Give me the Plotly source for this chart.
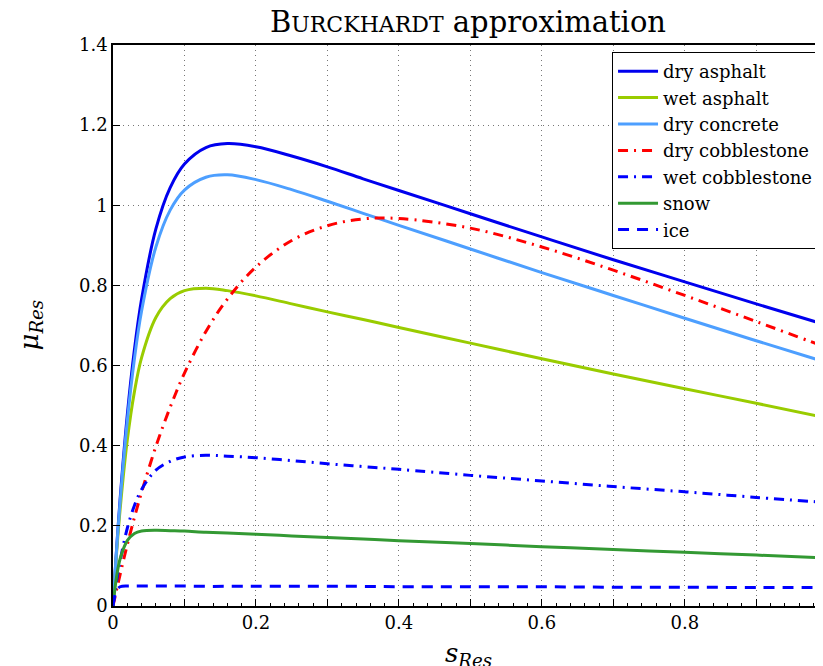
import plotly.graph_objects as go

# slip values (s_Res)
s = [0, 0.005, 0.01, 0.02, 0.03, 0.04, 0.06, 0.08, 0.1, 0.13, 0.16, 0.2, 0.25,
     0.3, 0.35, 0.4, 0.5, 0.6, 0.7, 0.8, 0.9, 1.0]

dry_asphalt = [0, 0.142, 0.268, 0.477, 0.640, 0.766, 0.941, 1.044, 1.103, 1.144, 1.154,
               1.146, 1.123, 1.096, 1.066, 1.037, 0.979, 0.921, 0.864, 0.809, 0.754, 0.700]
wet_asphalt = [0, 0.132, 0.242, 0.414, 0.535, 0.620, 0.720, 0.767, 0.787, 0.793, 0.787,
               0.774, 0.754, 0.734, 0.715, 0.695, 0.656, 0.617, 0.579, 0.542, 0.506, 0.469]
dry_concrete = [0, 0.139, 0.261, 0.462, 0.617, 0.736, 0.896, 0.988, 1.038, 1.070, 1.076,
                1.064, 1.039, 1.010, 0.980, 0.950, 0.891, 0.832, 0.775, 0.718, 0.662, 0.607]
dry_cobblestone = [0, 0.040, 0.079, 0.153, 0.221, 0.284, 0.398, 0.496, 0.581, 0.685, 0.766,
                   0.846, 0.912, 0.949, 0.966, 0.967, 0.943, 0.896, 0.838, 0.775, 0.710, 0.644]
wet_cobblestone = [0, 0.062, 0.113, 0.194, 0.251, 0.291, 0.339, 0.361, 0.372, 0.376, 0.374,
                   0.370, 0.363, 0.355, 0.348, 0.341, 0.326, 0.312, 0.298, 0.285, 0.271, 0.258]
snow = [0, 0.073, 0.118, 0.163, 0.181, 0.187, 0.189, 0.188, 0.187, 0.184, 0.182,
        0.179, 0.175, 0.171, 0.167, 0.163, 0.156, 0.148, 0.141, 0.134, 0.127, 0.120]
ice = [0, 0.039, 0.048, 0.050, 0.050, 0.050, 0.050, 0.050, 0.050, 0.049, 0.049,
       0.049, 0.049, 0.049, 0.049, 0.048, 0.048, 0.048, 0.047, 0.047, 0.046, 0.046]

names = ["dry asphalt", "wet asphalt", "dry concrete", "dry cobblestone",
         "wet cobblestone", "snow", "ice"]
series = [dry_asphalt, wet_asphalt, dry_concrete, dry_cobblestone,
          wet_cobblestone, snow, ice]
colors = ["#0000ee", "#99cc00", "#4d9fff", "#ff0000", "#0000ff", "#339933", "#0000ff"]
dashes = ["solid", "solid", "solid", "10px,6px,2px,6px", "10px,6px,2px,6px", "solid", "11px,8px"]

x_tickvals = [0, 0.1, 0.2, 0.3, 0.4, 0.5, 0.6, 0.7, 0.8, 0.9]
x_ticktext = ["0", " ", "0.2", " ", "0.4", " ", "0.6", " ", "0.8", " "]
y_tickvals = [0, 0.2, 0.4, 0.6, 0.8, 1.0, 1.2, 1.4]
y_ticktext = ["0", "0.2", "0.4", "0.6", "0.8", "1", "1.2", "1.4"]

FAMILY = "DejaVu Serif"
FONT = FAMILY + ", serif"


def serif(t):
    return "<span style='font-family:%s'>%s</span>" % (FAMILY, t) if t.strip() else t


fig = go.Figure()
for name, ys, c, d in zip(names, series, colors, dashes):
    fig.add_trace(go.Scatter(
        x=s, y=ys, mode="lines", name=serif(name),
        line=dict(color=c, width=3, dash=d, shape="spline", smoothing=1.0),
    ))

fig.update_layout(
    width=815, height=658,
    margin=dict(l=105, r=0, t=37, b=60),
    paper_bgcolor="white", plot_bgcolor="white",
    font=dict(family=FONT, color="black", size=18),
    title=dict(
        text="B<span style='font-size:22px'>URCKHARDT</span> approximation",
        x=0.5, xref="paper", xanchor="center",
        y=0.9787, yref="container", yanchor="middle",
        font=dict(family=FONT, size=29, color="black"),
    ),
    showlegend=True,
    legend=dict(
        x=0.993, xanchor="right", y=0.9875, yanchor="top",
        bgcolor="white", bordercolor="black", borderwidth=1,
        font=dict(family=FONT, size=18, color="black"),
        tracegroupgap=0, itemwidth=40,
    ),
    xaxis=dict(
        range=[0, 0.9934], tickmode="array", tickvals=x_tickvals,
        ticktext=[serif(t) for t in x_ticktext],
        ticks="inside", ticklen=7, tickcolor="black", tickwidth=1,
        showgrid=True, gridcolor="#777777", griddash="1px,4px", gridwidth=1,
        showline=True, linecolor="black", linewidth=1.5, mirror=True,
        zeroline=False, tickfont=dict(family=FONT, size=18),
        minor=dict(tickmode="linear", tick0=0, dtick=0.02, ticks="inside",
                   ticklen=3, tickcolor="black", showgrid=False),
    ),
    yaxis=dict(
        range=[0, 1.4], tickmode="array", tickvals=y_tickvals,
        ticktext=[serif(t) for t in y_ticktext],
        ticks="inside", ticklen=7, tickcolor="black", tickwidth=1,
        showgrid=True, gridcolor="#777777", griddash="1px,4px", gridwidth=1,
        showline=True, linecolor="black", linewidth=1.5, mirror=False,
        zeroline=False, tickfont=dict(family=FONT, size=18),
    ),
    annotations=[
        dict(text="<i>μ<sub>Res</sub></i>", x=-0.1169, y=0.5, xref="paper", yref="paper",
             xanchor="center", yanchor="middle", textangle=-90, showarrow=False,
             font=dict(family=FONT, size=26, color="black")),
        dict(text="<i>s<sub>Res</sub></i>", x=0.5, y=-0.0873, xref="paper", yref="paper",
             xanchor="center", yanchor="middle", showarrow=False,
             font=dict(family=FONT, size=26, color="black")),
        dict(text=serif("1"), x=0.99, y=-0.025, xref="x", yref="paper",
             xanchor="left", yanchor="middle", showarrow=False,
             font=dict(family=FONT, size=18, color="black")),
    ],
)

fig.write_html("out.html")
